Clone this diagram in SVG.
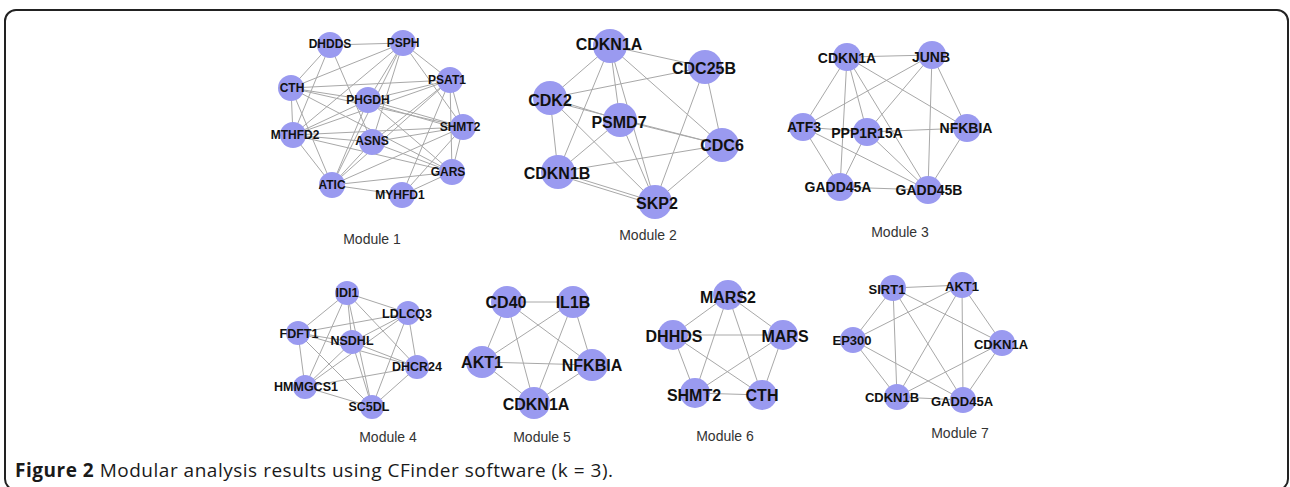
<svg xmlns="http://www.w3.org/2000/svg" width="1290" height="487" viewBox="0 0 1290 487">
<style>
.frame{fill:none;stroke:#222;stroke-width:2}
.e line{stroke:#a8a8a8;stroke-width:1}
.n circle{fill:#9a9af0}
.n text{font-family:"Liberation Sans",Arial,sans-serif;font-weight:bold;fill:#111;text-anchor:middle;dominant-baseline:central}
.m1 circle,.m7 circle{r:13px}
.m2 circle{r:17px}
.m3 circle{r:14px}
.m4 circle{r:12px}
.m5 circle{r:16px}
.m6 circle{r:15px}
.m1 text{font-size:12px}
.m2 text,.m5 text,.m6 text{font-size:16px}
.m3 text{font-size:14px}
.m4 text{font-size:12.5px}
.m7 text{font-size:13px}
.ml{font-family:"Liberation Sans",Arial,sans-serif;font-size:14px;fill:#333;text-anchor:middle}
.cap{font-family:"Open Sans","Noto Sans",sans-serif;font-size:19px;fill:#1a1a1a}
</style>
<rect class="frame" x="5" y="10" width="1283" height="480" rx="11"/>
<g id="connectors" class="e">
<!-- Module 1 -->
<line x1="330" y1="45" x2="403" y2="43"/><line x1="330" y1="45" x2="291" y2="88"/><line x1="330" y1="45" x2="293" y2="135"/><line x1="330" y1="45" x2="372" y2="142"/>
<line x1="403" y1="43" x2="291" y2="88"/><line x1="403" y1="43" x2="293" y2="135"/><line x1="403" y1="43" x2="368" y2="100"/><line x1="403" y1="43" x2="372" y2="142"/><line x1="403" y1="43" x2="450" y2="80"/><line x1="403" y1="43" x2="463" y2="127"/><line x1="403" y1="43" x2="332" y2="185"/>
<line x1="291" y1="88" x2="450" y2="80"/><line x1="291" y1="88" x2="293" y2="135"/><line x1="291" y1="88" x2="463" y2="127"/><line x1="291" y1="88" x2="452" y2="172"/><line x1="291" y1="88" x2="332" y2="185"/><line x1="291" y1="88" x2="368" y2="100"/>
<line x1="450" y1="80" x2="368" y2="100"/><line x1="450" y1="80" x2="463" y2="127"/><line x1="450" y1="80" x2="452" y2="172"/><line x1="450" y1="80" x2="372" y2="142"/><line x1="450" y1="80" x2="293" y2="135"/><line x1="450" y1="80" x2="332" y2="185"/><line x1="450" y1="80" x2="402" y2="195"/>
<line x1="368" y1="100" x2="463" y2="127"/><line x1="368" y1="103" x2="463" y2="130"/><line x1="368" y1="100" x2="293" y2="135"/><line x1="368" y1="100" x2="332" y2="185"/><line x1="368" y1="100" x2="452" y2="172"/>
<line x1="463" y1="127" x2="293" y2="135"/><line x1="463" y1="127" x2="372" y2="142"/><line x1="463" y1="127" x2="452" y2="172"/><line x1="463" y1="127" x2="332" y2="185"/><line x1="463" y1="127" x2="402" y2="195"/>
<line x1="293" y1="135" x2="372" y2="142"/><line x1="293" y1="135" x2="452" y2="172"/><line x1="293" y1="135" x2="332" y2="185"/>
<line x1="372" y1="142" x2="452" y2="172"/><line x1="372" y1="142" x2="332" y2="185"/>
<line x1="332" y1="185" x2="402" y2="195"/><line x1="332" y1="185" x2="452" y2="172"/><line x1="452" y1="172" x2="402" y2="195"/>
<!-- Module 2 -->
<line x1="610" y1="46" x2="705" y2="67"/><line x1="610" y1="46" x2="550" y2="98"/><line x1="610" y1="46" x2="620" y2="120"/><line x1="610" y1="46" x2="722" y2="145"/><line x1="610" y1="46" x2="558" y2="172"/><line x1="610" y1="46" x2="655" y2="202"/>
<line x1="705" y1="67" x2="550" y2="98"/><line x1="705" y1="67" x2="722" y2="145"/><line x1="705" y1="67" x2="655" y2="202"/>
<line x1="550" y1="98" x2="620" y2="120"/><line x1="550" y1="101" x2="722" y2="145"/><line x1="550" y1="98" x2="558" y2="172"/><line x1="550" y1="98" x2="655" y2="202"/>
<line x1="620" y1="120" x2="722" y2="145"/><line x1="620" y1="120" x2="558" y2="172"/><line x1="620" y1="120" x2="655" y2="202"/>
<line x1="722" y1="145" x2="558" y2="172"/><line x1="722" y1="145" x2="655" y2="202"/><line x1="558" y1="172" x2="655" y2="202"/><line x1="558" y1="175" x2="655" y2="205"/>
<!-- Module 3 -->
<line x1="847" y1="57" x2="932" y2="55"/><line x1="847" y1="57" x2="803" y2="127"/><line x1="847" y1="57" x2="867" y2="132"/><line x1="847" y1="57" x2="840" y2="187"/><line x1="847" y1="57" x2="928" y2="190"/><line x1="847" y1="57" x2="967" y2="128"/>
<line x1="932" y1="55" x2="803" y2="127"/><line x1="932" y1="55" x2="867" y2="132"/><line x1="932" y1="55" x2="967" y2="128"/><line x1="932" y1="55" x2="928" y2="190"/>
<line x1="803" y1="127" x2="867" y2="132"/><line x1="803" y1="127" x2="840" y2="187"/><line x1="803" y1="127" x2="928" y2="190"/>
<line x1="867" y1="132" x2="967" y2="128"/><line x1="867" y1="132" x2="840" y2="187"/><line x1="867" y1="132" x2="928" y2="190"/>
<line x1="967" y1="128" x2="928" y2="190"/><line x1="840" y1="187" x2="928" y2="190"/>
<!-- Module 4 -->
<line x1="347" y1="293" x2="408" y2="313"/><line x1="347" y1="293" x2="298" y2="333"/><line x1="347" y1="293" x2="352" y2="342"/><line x1="347" y1="293" x2="417" y2="367"/><line x1="347" y1="293" x2="305" y2="387"/><line x1="347" y1="293" x2="372" y2="407"/>
<line x1="408" y1="313" x2="298" y2="333"/><line x1="408" y1="313" x2="352" y2="342"/><line x1="408" y1="313" x2="417" y2="367"/><line x1="408" y1="313" x2="305" y2="387"/><line x1="408" y1="313" x2="372" y2="407"/>
<line x1="298" y1="333" x2="352" y2="342"/><line x1="298" y1="333" x2="417" y2="367"/><line x1="298" y1="333" x2="305" y2="387"/><line x1="298" y1="333" x2="372" y2="407"/>
<line x1="352" y1="342" x2="417" y2="367"/><line x1="352" y1="342" x2="305" y2="387"/><line x1="352" y1="342" x2="372" y2="407"/>
<line x1="417" y1="367" x2="305" y2="387"/><line x1="417" y1="367" x2="372" y2="407"/><line x1="305" y1="387" x2="372" y2="407"/>
<!-- Module 5 -->
<line x1="507" y1="302" x2="573" y2="302"/><line x1="507" y1="302" x2="482" y2="362"/><line x1="507" y1="302" x2="592" y2="365"/><line x1="507" y1="302" x2="534" y2="403"/>
<line x1="573" y1="302" x2="482" y2="362"/><line x1="573" y1="302" x2="592" y2="365"/><line x1="573" y1="302" x2="534" y2="403"/>
<line x1="482" y1="362" x2="592" y2="365"/><line x1="482" y1="362" x2="534" y2="403"/><line x1="592" y1="365" x2="534" y2="403"/>
<!-- Module 6 -->
<line x1="728" y1="295" x2="673" y2="335"/><line x1="728" y1="295" x2="783" y2="335"/><line x1="728" y1="295" x2="695" y2="393"/><line x1="728" y1="295" x2="762" y2="395"/>
<line x1="673" y1="335" x2="783" y2="335"/><line x1="673" y1="335" x2="695" y2="393"/><line x1="673" y1="335" x2="762" y2="395"/>
<line x1="783" y1="335" x2="695" y2="393"/><line x1="783" y1="335" x2="762" y2="395"/><line x1="695" y1="393" x2="762" y2="395"/>
<!-- Module 7 -->
<line x1="893" y1="288" x2="962" y2="285"/><line x1="893" y1="288" x2="853" y2="340"/><line x1="893" y1="288" x2="1002" y2="343"/><line x1="893" y1="288" x2="897" y2="397"/><line x1="893" y1="288" x2="963" y2="400"/>
<line x1="962" y1="285" x2="853" y2="340"/><line x1="962" y1="285" x2="1002" y2="343"/><line x1="962" y1="285" x2="897" y2="397"/><line x1="962" y1="285" x2="963" y2="400"/>
<line x1="853" y1="340" x2="897" y2="397"/><line x1="853" y1="340" x2="963" y2="400"/>
<line x1="1002" y1="343" x2="897" y2="397"/><line x1="1002" y1="343" x2="963" y2="400"/><line x1="897" y1="397" x2="963" y2="400"/>
</g>
<!-- Module 1 nodes -->
<g id="m1-dhdds" class="n m1"><circle cx="330" cy="45"/><text x="330" y="44">DHDDS</text></g>
<g id="m1-psph" class="n m1"><circle cx="403" cy="43"/><text x="403" y="43">PSPH</text></g>
<g id="m1-cth" class="n m1"><circle cx="291" cy="88"/><text x="292" y="88">CTH</text></g>
<g id="m1-psat1" class="n m1"><circle cx="450" cy="80"/><text x="447" y="80">PSAT1</text></g>
<g id="m1-phgdh" class="n m1"><circle cx="368" cy="100"/><text x="368" y="100">PHGDH</text></g>
<g id="m1-shmt2" class="n m1"><circle cx="463" cy="127"/><text x="460" y="127">SHMT2</text></g>
<g id="m1-mthfd2" class="n m1"><circle cx="293" cy="135"/><text x="295" y="135">MTHFD2</text></g>
<g id="m1-asns" class="n m1"><circle cx="372" cy="142"/><text x="372" y="141">ASNS</text></g>
<g id="m1-gars" class="n m1"><circle cx="452" cy="172"/><text x="448" y="172">GARS</text></g>
<g id="m1-atic" class="n m1"><circle cx="332" cy="185"/><text x="332" y="185">ATIC</text></g>
<g id="m1-myhfd1" class="n m1"><circle cx="402" cy="195"/><text x="400" y="195">MYHFD1</text></g>
<!-- Module 2 nodes -->
<g id="m2-cdkn1a" class="n m2"><circle cx="610" cy="46"/><text x="609" y="44">CDKN1A</text></g>
<g id="m2-cdc25b" class="n m2"><circle cx="705" cy="67"/><text x="704" y="68">CDC25B</text></g>
<g id="m2-cdk2" class="n m2"><circle cx="550" cy="98"/><text x="550" y="100">CDK2</text></g>
<g id="m2-psmd7" class="n m2"><circle cx="620" cy="120"/><text x="619" y="122">PSMD7</text></g>
<g id="m2-cdc6" class="n m2"><circle cx="722" cy="145"/><text x="722" y="145">CDC6</text></g>
<g id="m2-cdkn1b" class="n m2"><circle cx="558" cy="172"/><text x="557" y="173">CDKN1B</text></g>
<g id="m2-skp2" class="n m2"><circle cx="655" cy="202"/><text x="657" y="203">SKP2</text></g>
<!-- Module 3 nodes -->
<g id="m3-cdkn1a" class="n m3"><circle cx="847" cy="57"/><text x="847" y="58">CDKN1A</text></g>
<g id="m3-junb" class="n m3"><circle cx="932" cy="55"/><text x="931" y="57">JUNB</text></g>
<g id="m3-atf3" class="n m3"><circle cx="803" cy="127"/><text x="804" y="127">ATF3</text></g>
<g id="m3-ppp1r15a" class="n m3"><circle cx="867" cy="132"/><text x="867" y="133">PPP1R15A</text></g>
<g id="m3-nfkbia" class="n m3"><circle cx="967" cy="128"/><text x="966" y="128">NFKBIA</text></g>
<g id="m3-gadd45a" class="n m3"><circle cx="840" cy="187"/><text x="838" y="187">GADD45A</text></g>
<g id="m3-gadd45b" class="n m3"><circle cx="928" cy="190"/><text x="929" y="190">GADD45B</text></g>
<!-- Module 4 nodes -->
<g id="m4-idi1" class="n m4"><circle cx="347" cy="293"/><text x="347" y="293">IDI1</text></g>
<g id="m4-ldlcq3" class="n m4"><circle cx="408" cy="313"/><text x="407" y="314">LDLCQ3</text></g>
<g id="m4-fdft1" class="n m4"><circle cx="298" cy="333"/><text x="299" y="334">FDFT1</text></g>
<g id="m4-nsdhl" class="n m4"><circle cx="352" cy="342"/><text x="352" y="341">NSDHL</text></g>
<g id="m4-dhcr24" class="n m4"><circle cx="417" cy="367"/><text x="417" y="367">DHCR24</text></g>
<g id="m4-hmmgcs1" class="n m4"><circle cx="305" cy="387"/><text x="306" y="387">HMMGCS1</text></g>
<g id="m4-sc5dl" class="n m4"><circle cx="372" cy="407"/><text x="369" y="407">SC5DL</text></g>
<!-- Module 5 nodes -->
<g id="m5-cd40" class="n m5"><circle cx="507" cy="302"/><text x="506" y="302">CD40</text></g>
<g id="m5-il1b" class="n m5"><circle cx="573" cy="302"/><text x="573" y="302">IL1B</text></g>
<g id="m5-akt1" class="n m5"><circle cx="482" cy="362"/><text x="482" y="362">AKT1</text></g>
<g id="m5-nfkbia" class="n m5"><circle cx="592" cy="365"/><text x="592" y="365">NFKBIA</text></g>
<g id="m5-cdkn1a" class="n m5"><circle cx="534" cy="403"/><text x="536" y="404">CDKN1A</text></g>
<!-- Module 6 nodes -->
<g id="m6-mars2" class="n m6"><circle cx="728" cy="295"/><text x="728" y="297">MARS2</text></g>
<g id="m6-dhhds" class="n m6"><circle cx="673" cy="335"/><text x="674" y="336">DHHDS</text></g>
<g id="m6-mars" class="n m6"><circle cx="783" cy="335"/><text x="785" y="336">MARS</text></g>
<g id="m6-shmt2" class="n m6"><circle cx="695" cy="393"/><text x="694" y="395">SHMT2</text></g>
<g id="m6-cth" class="n m6"><circle cx="762" cy="395"/><text x="762" y="395">CTH</text></g>
<!-- Module 7 nodes -->
<g id="m7-sirt1" class="n m7"><circle cx="893" cy="288"/><text x="887" y="289">SIRT1</text></g>
<g id="m7-akt1" class="n m7"><circle cx="962" cy="285"/><text x="962" y="286">AKT1</text></g>
<g id="m7-ep300" class="n m7"><circle cx="853" cy="340"/><text x="852" y="340">EP300</text></g>
<g id="m7-cdkn1a" class="n m7"><circle cx="1002" cy="343"/><text x="1001" y="344">CDKN1A</text></g>
<g id="m7-cdkn1b" class="n m7"><circle cx="897" cy="397"/><text x="892" y="397">CDKN1B</text></g>
<g id="m7-gadd45a" class="n m7"><circle cx="963" cy="400"/><text x="962" y="401">GADD45A</text></g>
<!-- Module labels -->
<g id="labels">
<text class="ml" x="372" y="244">Module 1</text>
<text class="ml" x="648" y="240">Module 2</text>
<text class="ml" x="900" y="237">Module 3</text>
<text class="ml" x="388" y="442">Module 4</text>
<text class="ml" x="542" y="442">Module 5</text>
<text class="ml" x="725" y="441">Module 6</text>
<text class="ml" x="960" y="438">Module 7</text>
</g>
<text class="cap" x="15" y="477" textLength="598" lengthAdjust="spacing"><tspan font-weight="bold">Figure 2</tspan> Modular analysis results using CFinder software (k = 3).</text>
</svg>
